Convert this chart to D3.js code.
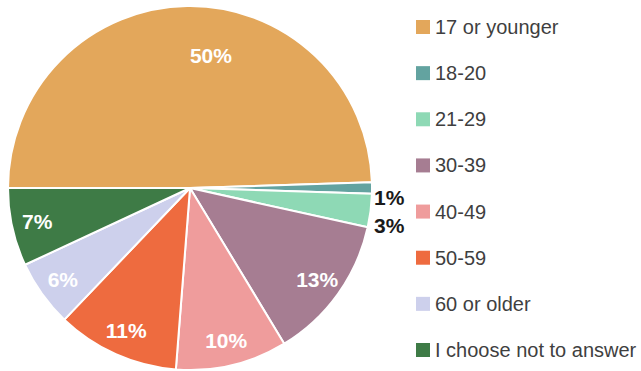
<!DOCTYPE html>
<html>
<head>
<meta charset="utf-8">
<script src="https://cdn.jsdelivr.net/npm/d3@7"></script>
<style>
  html, body { margin: 0; padding: 0; background: #fff; }
  svg { display: block; font-family: "Liberation Sans", Arial, sans-serif; }
</style>
</head>
<body>
<svg id="chart" width="641" height="371"></svg>
<script>
// Age groups of respondents
const categories = ["17 or younger", "18-20", "21-29", "30-39", "40-49", "50-59", "60 or older", "I choose not to answer"];
const shares = [50, 1, 3, 13, 10, 11, 6, 7];
const colors = ["#E3A75B", "#63A3A0", "#8ED9B5", "#A67D92", "#EF9C9C", "#EE6B3F", "#CDD0EC", "#3E7B46"];

const data = categories.map((c, i) => ({ name: c, value: shares[i], color: colors[i] }));

const svg = d3.select("#chart");
const cx = 190, cy = 188, R = 182;

const pie = d3.pie()
  .sort(null)
  .value(d => d.value)
  .startAngle(-Math.PI / 2)
  .endAngle(1.5 * Math.PI);

const arcs = pie(data);
const arc = d3.arc().innerRadius(0).outerRadius(R);

const g = svg.append("g").attr("transform", `translate(${cx},${cy})`);

g.selectAll("path.slice")
  .data(arcs)
  .join("path")
  .attr("class", "slice")
  .attr("d", arc)
  .attr("fill", d => d.data.color)
  .attr("stroke", "#fff")
  .attr("stroke-width", 2)
  .attr("stroke-linejoin", "round");

// Percentage labels: inside for wide slices, outside (dark) for thin ones
const total = d3.sum(shares);
let prevOutsideY = -Infinity;
arcs.forEach(a => {
  const mid = (a.startAngle + a.endAngle) / 2;
  const label = a.data.value + "%";
  const frac = a.data.value / total;
  const t = g.append("text")
    .text(label)
    .attr("font-size", 21)
    .attr("font-weight", "bold")
    .attr("dy", "0.35em");
  if (frac < 0.05) {
    let y = -Math.cos(mid) * R + 10;
    y = Math.max(y, prevOutsideY + 28);
    prevOutsideY = y;
    t.attr("x", R + 2).attr("y", y)
      .attr("text-anchor", "start")
      .attr("fill", "#1a1a1a");
  } else if (frac >= 0.25) {
    const r = R * 0.73;
    t.attr("x", Math.sin(mid) * r + 2).attr("y", -Math.cos(mid) * r)
      .attr("text-anchor", "start")
      .attr("fill", "#fff");
  } else {
    const r = R * 0.86;
    t.attr("x", Math.sin(mid) * r).attr("y", -Math.cos(mid) * r)
      .attr("text-anchor", "middle")
      .attr("fill", "#fff");
  }
});

// Legend
const legendY = d3.scalePoint()
  .domain(categories)
  .range([27, 350]);

const legend = svg.append("g");
const items = legend.selectAll("g.item")
  .data(data)
  .join("g")
  .attr("class", "item")
  .attr("transform", d => `translate(416,${legendY(d.name)})`);

items.append("rect")
  .attr("x", 0)
  .attr("y", -7)
  .attr("width", 14)
  .attr("height", 14)
  .attr("fill", d => d.color);

items.append("text")
  .attr("x", 19)
  .attr("y", 0)
  .attr("dy", "0.35em")
  .attr("font-size", 20)
  .attr("fill", "#3f3f3f")
  .text(d => d.name);
</script>
</body>
</html>
